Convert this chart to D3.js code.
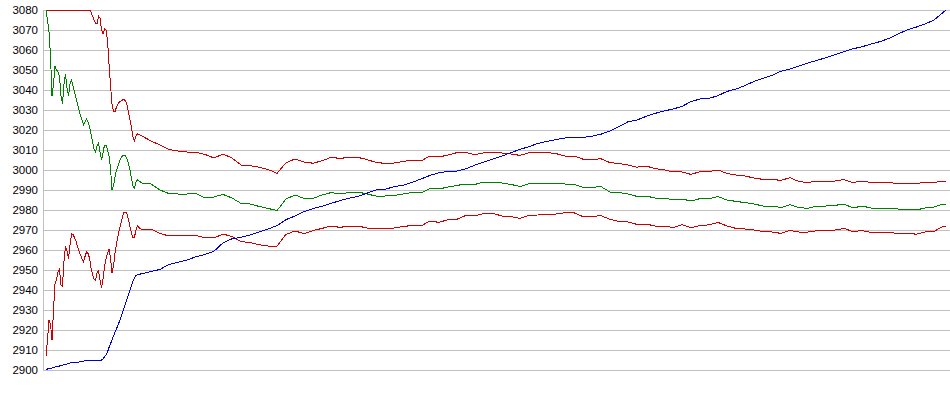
<!DOCTYPE html>
<html><head><meta charset="utf-8">
<script src="https://cdn.jsdelivr.net/npm/d3@7"></script>
<style>html,body{margin:0;padding:0;background:#fff;overflow:hidden}</style>
</head><body><svg id="c" width="950" height="395"></svg>
<script>
// time index of each sample (period number)
const periods = [
0,1,2,3,4,5,6,7,8,9,10,11,12,13,14,15,16,17,18,19,20,21,22,23,24,25,26,27,28,29,
30,31,32,33,34,35,36,37,38,39,40,41,42,43,44,45,46,47,48,49,50,51,52,53,54,55,56,57,58,59,
60,61,62,63,64,
70,76,82,88,94,100,106,112,118,124,
130,136,142,148,154,160,166,172,178,184,
190,196,202,208,214,220,226,232,238,244,
250,256,262,268,274,280,286,292,298,304,
310,316,322,328,334,340,346,352,358,364,
370,376,382,388,394,400,406,412,418,424,
430,436,442,448,454,460,466,472,478,484,
490,496,502,508,514,520,526,532,538,544,
550,556,562,568,574,580,586,592,598,600
];

const upperBand = [
3080,3080,3080,3080,3080,3080,3080,3080,3080,3080,
3080,3080,3080,3080,3080,3080,3080,3080,3080,3080,
3080,3080,3080,3080,3080,3080,3080,3080,3080,3080,
3079,3077,3075,3073.5,3073,3077,3076,3070,3068,3070.5,
3070,3065,3053,3042.5,3033,3029.2,3029.2,3031.5,3033,3034,
3034.5,3035,3035.3,3034.5,3032.5,3029,3025,3021,3016.5,3014.5,
3017,3018,3017.7,3017.3,3017,
3014.5,3012.5,3010.3,3009.5,3009,3008.8,3007.8,3006,3008,3006,
3002.5,3002.2,3001.4,3000.3,2998.3,3003.6,3005.5,3004,3003.4,3004.6,
3006.3,3005.8,3006.3,3006.3,3005.2,3003.8,3003.3,3003.5,3004.2,3005,
3004.5,3007,3006.5,3007.5,3008.7,3008.7,3007.7,3008.6,3008.8,3008.5,
3008,3007.3,3008.6,3008.7,3008.7,3008.2,3007,3007,3005.4,3005.3,
3005.6,3003.7,3003.2,3002.5,3001.4,3002,3000.7,3000.1,2999.1,2999,
2997.8,2999.2,2999.2,3000,2998.3,2997.5,2997,2996,2995.3,2995.3,
2994.8,2996.2,2994.2,2993.7,2994.5,2994.5,2994.5,2995.2,2993.7,2994.5,
2993.7,2993.7,2993.7,2993.2,2993.2,2993.3,2993.7,2993.7,2994.5,2994.5
];

const middle = [
3080,3075,3069,3057,3037,3043,3052,3050,3049,3047,
3037,3033,3043,3048,3041,3037,3043,3045,3042,3039,
3036,3033,3030,3027,3025,3022.5,3024,3025.5,3024,3022,
3018,3014,3010.5,3009,3012,3013.5,3009,3005,3008.5,3012.5,
3012.5,3010,3007,3001,2990,2992,2996.5,3000,3002,3004.5,
3006,3007,3007.5,3007,3005.5,3003,3000,2995.5,2992,2991,
2994,2995,2994.5,2994,2993.5,
2993,2990,2988.2,2988,2988,2988.3,2986,2986.5,2987.8,2986,
2983.3,2983,2981.8,2980.8,2979.7,2985.5,2987.5,2985.8,2985.8,2987.5,
2988.7,2988,2988.7,2989,2988,2987,2987,2987.2,2988,2988.7,
2988.5,2990.8,2990.5,2991.5,2992.3,2993,2992.8,2994,2994,2993.5,
2992.8,2991.7,2993.2,2993.3,2993.3,2993.3,2993,2992.8,2991.3,2991.3,
2991.7,2989,2988.8,2988,2986.8,2987,2986,2985.8,2985.2,2985.5,
2984.5,2985.7,2985.7,2986.7,2985,2984.3,2983.7,2983,2982,2982,
2981.2,2982.7,2981.2,2980.8,2982,2982,2982.3,2983,2981,2982,
2981,2981,2981,2980.5,2980.5,2980,2981,2981.5,2983,2983
];

const lowerBand = [
2907,2915,2925,2923,2915,2930,2943,2945.5,2949,2950.5,
2942.5,2942,2954.5,2962,2959.5,2955.5,2962.5,2968,2967.7,2966.3,
2964.3,2961.5,2959.5,2957.5,2955.5,2954.2,2956.7,2959,2958.3,2956,
2951,2948,2945.5,2945,2948.5,2949.5,2945,2941,2945.5,2951.5,
2955.5,2958.5,2960.5,2956,2948.5,2952,2958.3,2963,2967,2970.5,
2973.5,2976.5,2979,2979,2978,2975,2971.7,2968.5,2966,2966.5,
2970,2972,2971.2,2970.7,2970.3,
2970.5,2968.3,2967,2967.3,2967,2967.2,2966.2,2966,2968,2966.7,
2964.2,2963.7,2962.6,2962,2962,2967.8,2969.5,2968.2,2969.7,2970.8,
2972,2971.3,2972,2972,2971,2970.8,2970.8,2971,2971.7,2972.3,
2972,2974.5,2973.8,2975.2,2975.4,2977.3,2977,2978.3,2978.3,2977,
2976.7,2975.8,2977.4,2977.5,2977.8,2978,2978.6,2978.6,2976.7,2976.7,
2977.2,2975.3,2974.3,2974,2972.8,2973,2972,2972,2971.2,2972.6,
2971.2,2972.2,2972.6,2973.8,2972,2970.8,2970.5,2970,2969.2,2969,
2968.3,2969.8,2969,2969,2969.6,2969.8,2970,2970.8,2969.2,2969.7,
2968.8,2968.8,2968.8,2968.2,2968.5,2967.9,2969,2969.3,2971.8,2971.8
];

const trend = [
2900,2900.5,2900.8,2901,2901,2901.2,2901.5,2901.7,2901.8,2902,
2902.2,2902.4,2902.6,2902.8,2903,2903.2,2903.5,2903.7,2903.7,2903.7,
2903.7,2903.8,2904,2904.1,2904.2,2904.4,2904.6,2904.7,2904.7,2904.7,
2904.7,2904.7,2904.7,2904.7,2904.7,2904.7,2904.7,2905,2905.6,2906.5,
2907.6,2909,2911.2,2913.1,2915,2917,2918.8,2920.6,2922.5,2924.3,
2926.5,2928.8,2931,2933.2,2935.5,2937.8,2940,2942.3,2944.5,2946,
2947.2,2947.7,2948,2948,2948.2,
2949.2,2950.3,2952.8,2953.9,2955,2956.6,2957.8,2959.4,2963.6,2965.6,
2966.3,2967.5,2969,2970.5,2972.2,2975.2,2977,2979.2,2980.7,2981.9,
2983.3,2984.7,2985.9,2986.8,2988.4,2990,2990.3,2991.7,2992.3,2993.8,
2995.5,2997.3,2998.6,2999.3,2999.5,3000.6,3002.5,3004,3005.5,3007,
3008.7,3010.3,3011.7,3013.3,3014.3,3015.2,3016,3016.3,3016.3,3016.9,
3017.9,3019.5,3021.8,3024.1,3025,3026.8,3028.3,3029.5,3030.5,3031.8,
3034.2,3035.5,3035.8,3037.2,3039.3,3040.5,3042.2,3044.3,3045.8,3047.3,
3049.4,3050.5,3052,3053.5,3054.8,3056.2,3057.7,3059.2,3060.6,3061.6,
3063,3064.2,3065.8,3068,3070,3071.4,3073,3075,3078.7,3080
];

const yTicks = [2900,2910,2920,2930,2940,2950,2960,2970,2980,2990,3000,3010,3020,3030,3040,3050,3060,3070,3080];

const series = [
  {values: upperBand, color: "#cc0000"},
  {values: lowerBand, color: "#cc0000"},
  {values: middle, color: "#008000"},
  {values: trend, color: "#0000cc"}
];

const svg = d3.select("#c");
const x = d3.scaleLinear().domain([0, 600]).range([46, 946]);
const y = d3.scaleLinear().domain([2900, 3080]).range([370, 10]);

const axis = d3.axisLeft(y).tickValues(yTicks).tickFormat(d3.format("d"))
  .tickSize(-(950 - 43)).tickSizeOuter(0).tickPadding(5);
const gAxis = svg.append("g").attr("transform", "translate(43,0)").call(axis);
gAxis.select(".domain").attr("stroke", "#c0c0c0");
gAxis.selectAll(".tick line").attr("stroke", "#c0c0c0");
gAxis.selectAll(".tick text")
  .attr("fill", "#000")
  .style("font-family", "'Liberation Sans', Arial, sans-serif")
  .style("font-size", "11.5px");

const line = d3.line().x((d, i) => x(periods[i])).y(d => y(d));
svg.append("g").selectAll("path").data(series).join("path")
  .attr("d", s => line(s.values))
  .attr("fill", "none")
  .attr("stroke", s => s.color)
  .attr("stroke-width", 1)
  .attr("shape-rendering", "crispEdges");
</script>
</body></html>
